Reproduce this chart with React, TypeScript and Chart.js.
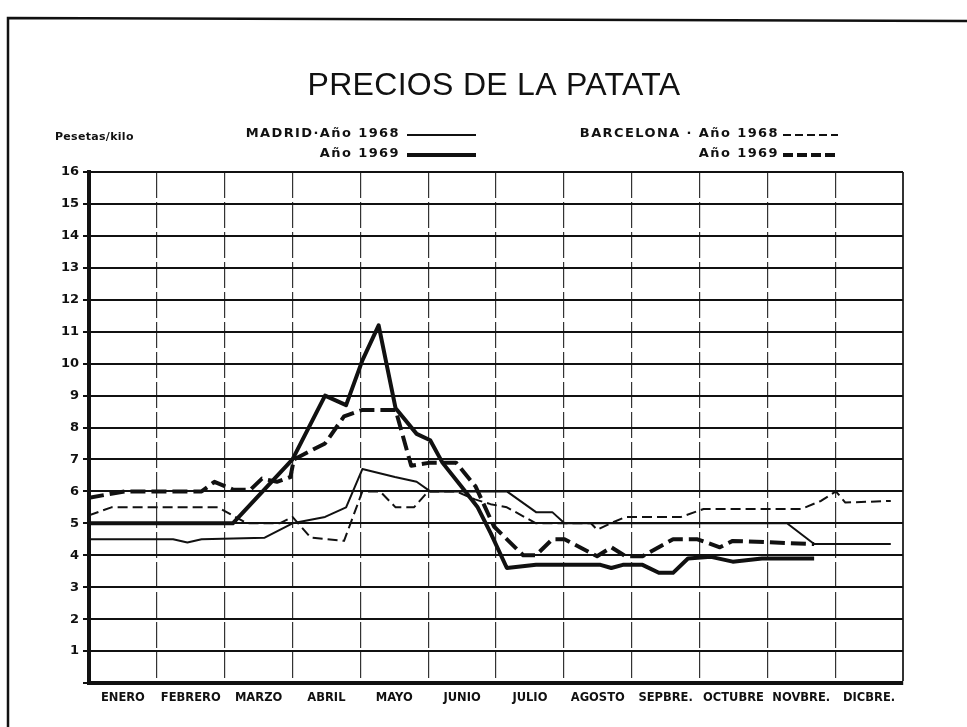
import React, { useEffect, useRef } from "react";
import { Chart, registerables } from "chart.js";

Chart.register(...registerables);

// ---------- text ----------
const TITLE = "PRECIOS DE LA PATATA";
const UNIT_LABEL = "Pesetas/kilo";
const LEGEND_MADRID_1968 = "MADRID·Año 1968";
const LEGEND_MADRID_1969 = "Año 1969";
const LEGEND_BCN_1968 = "BARCELONA · Año 1968";
const LEGEND_BCN_1969 = "Año 1969";

// ---------- categories / ticks ----------
const months = [
  "ENERO", "FEBRERO", "MARZO", "ABRIL", "MAYO", "JUNIO",
  "JULIO", "AGOSTO", "SEPBRE.", "OCTUBRE", "NOVBRE.", "DICBRE.",
];
const yMin = 0;
const yMax = 16;
const yStep = 1;

// ---------- series (x = position in months from 1 Jan, y = pesetas/kilo) ----------
const madrid1968X = [0, 1.24, 1.45, 1.66, 2.59, 3.0, 3.48, 3.79, 4.03, 4.51, 4.83, 5.03, 6.16, 6.59, 6.83, 7.01, 10.29, 10.69, 11.82];
const madrid1968Y = [4.5, 4.5, 4.4, 4.5, 4.55, 5.0, 5.2, 5.5, 6.7, 6.45, 6.3, 6.0, 6.0, 5.35, 5.35, 5.0, 5.0, 4.35, 4.35];

const madrid1969X = [0, 2.12, 3.0, 3.48, 3.79, 4.03, 4.27, 4.52, 4.83, 5.03, 5.21, 5.49, 5.73, 5.92, 6.16, 6.59, 7.54, 7.7, 7.87, 8.16, 8.4, 8.61, 8.83, 9.17, 9.49, 9.92, 10.69];
const madrid1969Y = [5.0, 5.0, 7.0, 9.0, 8.7, 10.1, 11.2, 8.6, 7.8, 7.6, 6.9, 6.15, 5.5, 4.7, 3.6, 3.7, 3.7, 3.6, 3.7, 3.7, 3.45, 3.45, 3.9, 3.95, 3.8, 3.9, 3.9];

const barcelona1968X = [0, 0.33, 1.9, 2.33, 2.81, 3.0, 3.27, 3.76, 4.03, 4.29, 4.52, 4.79, 5.0, 5.41, 5.69, 5.92, 6.16, 6.59, 7.01, 7.4, 7.49, 7.69, 7.91, 8.73, 9.06, 10.5, 10.79, 11.01, 11.15, 11.82];
const barcelona1968Y = [5.25, 5.5, 5.5, 5.0, 5.0, 5.2, 4.55, 4.45, 6.0, 6.0, 5.5, 5.5, 6.0, 6.0, 5.75, 5.6, 5.5, 5.0, 5.0, 5.0, 4.8, 5.0, 5.2, 5.2, 5.45, 5.45, 5.7, 6.0, 5.65, 5.7];

const barcelona1969X = [0, 0.53, 1.66, 1.85, 2.13, 2.38, 2.55, 2.77, 2.97, 3.02, 3.48, 3.76, 4.03, 4.52, 4.75, 5.03, 5.41, 5.7, 5.97, 6.4, 6.59, 6.83, 7.01, 7.49, 7.7, 7.91, 8.16, 8.61, 8.97, 9.3, 9.49, 10.69];
const barcelona1969Y = [5.8, 6.0, 6.0, 6.3, 6.05, 6.05, 6.4, 6.3, 6.45, 7.0, 7.5, 8.35, 8.55, 8.55, 6.8, 6.9, 6.9, 6.15, 4.9, 4.0, 4.0, 4.5, 4.5, 3.97, 4.25, 3.97, 3.97, 4.5, 4.5, 4.25, 4.45, 4.35];

// ---------- styles ----------
const INK = "#111";
const THIN = 2;
const THICK = 4;
const DASH_THIN = [10, 5];
const DASH_THICK = [15, 6];
const BOLD_FONT = '"DejaVu Sans", "Liberation Sans", Arial, sans-serif';
const TITLE_FONT = '"Liberation Sans", Arial, sans-serif';

const toPoints = (xs: number[], ys: number[]) => xs.map((x, i) => ({ x, y: ys[i] }));

const decorPlugin = {
  id: "decor",
  afterDraw(chart: any) {
    const ctx = chart.ctx as CanvasRenderingContext2D;
    ctx.save();
    // frame (top + left edges of the scanned page)
    ctx.strokeStyle = INK;
    ctx.lineWidth = 2.5;
    ctx.setLineDash([]);
    ctx.beginPath();
    ctx.moveTo(8, 727);
    ctx.lineTo(8, 18);
    ctx.lineTo(967, 21);
    ctx.stroke();

    // title
    ctx.fillStyle = INK;
    ctx.font = `32px ${TITLE_FONT}`;
    ctx.textAlign = "center";
    ctx.textBaseline = "middle";
    (ctx as any).letterSpacing = "0.3px";
    ctx.fillText(TITLE, 494, 86);

    // unit label
    (ctx as any).letterSpacing = "0.3px";
    ctx.font = `bold 11px ${BOLD_FONT}`;
    ctx.textAlign = "left";
    ctx.fillText(UNIT_LABEL, 55, 137);

    // legend text
    (ctx as any).letterSpacing = "1.4px";
    ctx.font = `bold 13px ${BOLD_FONT}`;
    ctx.textAlign = "right";
    ctx.fillText(LEGEND_MADRID_1968, 400, 134);
    ctx.fillText(LEGEND_MADRID_1969, 400, 154);
    ctx.fillText(LEGEND_BCN_1968, 779, 134);
    ctx.fillText(LEGEND_BCN_1969, 779, 154);
    (ctx as any).letterSpacing = "0px";

    // legend samples
    const sample = (x1: number, x2: number, y: number, w: number, dash: number[]) => {
      ctx.lineWidth = w;
      ctx.setLineDash(dash);
      ctx.beginPath();
      ctx.moveTo(x1, y);
      ctx.lineTo(x2, y);
      ctx.stroke();
    };
    sample(407, 476, 135, THIN, []);
    sample(407, 476, 155, THICK, []);
    sample(783, 838, 135, THIN, [8, 4]);
    sample(783, 838, 155, THICK, [10, 4]);
    ctx.restore();
  },
};

export default function App() {
  const ref = useRef<HTMLCanvasElement>(null);

  useEffect(() => {
    const series = [
      { label: "Madrid 1968", xs: madrid1968X, ys: madrid1968Y, w: THIN, dash: [] as number[] },
      { label: "Madrid 1969", xs: madrid1969X, ys: madrid1969Y, w: THICK, dash: [] as number[] },
      { label: "Barcelona 1968", xs: barcelona1968X, ys: barcelona1968Y, w: THIN, dash: DASH_THIN },
      { label: "Barcelona 1969", xs: barcelona1969X, ys: barcelona1969Y, w: THICK, dash: DASH_THICK },
    ];

    const chart = new Chart(ref.current as HTMLCanvasElement, {
      type: "line",
      data: {
        datasets: series.map((s) => ({
          label: s.label,
          data: toPoints(s.xs, s.ys),
          borderColor: INK,
          backgroundColor: INK,
          borderWidth: s.w,
          borderDash: s.dash,
          borderJoinStyle: "round" as const,
          borderCapStyle: "butt" as const,
          pointRadius: 0,
          tension: 0,
          fill: false,
        })),
      },
      options: {
        responsive: false,
        animation: false,
        devicePixelRatio: 1,
        layout: { padding: { left: 0, top: 172, right: 64, bottom: 14 } },
        plugins: {
          legend: { display: false },
          tooltip: { enabled: false },
          title: { display: false },
        },
        scales: {
          x: {
            type: "linear",
            min: 0,
            max: months.length,
            afterBuildTicks: (scale: any) => {
              scale.ticks = months.map((_, i) => ({ value: i + 0.5 }));
            },
            afterFit: (scale: any) => {
              scale.height = 30;
            },
            ticks: {
              autoSkip: false,
              maxRotation: 0,
              minRotation: 0,
              padding: 8,
              color: INK,
              font: { family: BOLD_FONT, size: 11.5, weight: "bold" },
              callback: (_v: any, i: number) => months[i],
            },
            grid: {
              offset: true,
              drawTicks: false,
              color: "#333",
              lineWidth: (c: any) => (c.type === "tick" ? 1.2 : 2),
            },
            border: {
              display: true,
              color: INK,
              width: 4,
              dash: (c: any) => (c.type === "tick" ? [26, 4] : []),
            },
          },
          y: {
            type: "linear",
            min: yMin,
            max: yMax,
            afterFit: (scale: any) => {
              scale.width = 89;
            },
            ticks: {
              stepSize: yStep,
              autoSkip: false,
              padding: 4,
              color: INK,
              font: { family: BOLD_FONT, size: 13, weight: "bold" },
              callback: (v: any) => (v === 0 ? "" : String(v)),
            },
            grid: {
              color: INK,
              lineWidth: 2,
              drawTicks: true,
              tickLength: 6,
              tickWidth: 2,
              tickColor: INK,
            },
            border: { display: true, color: INK, width: 4 },
          },
        },
      },
      plugins: [decorPlugin],
    } as any);

    return () => chart.destroy();
  }, []);

  return (
    <div style={{ position: "fixed", left: 0, top: 0, width: 967, height: 727, background: "#fff" }}>
      <canvas ref={ref} width={967} height={727} style={{ display: "block", width: 967, height: 727 }} />
    </div>
  );
}
